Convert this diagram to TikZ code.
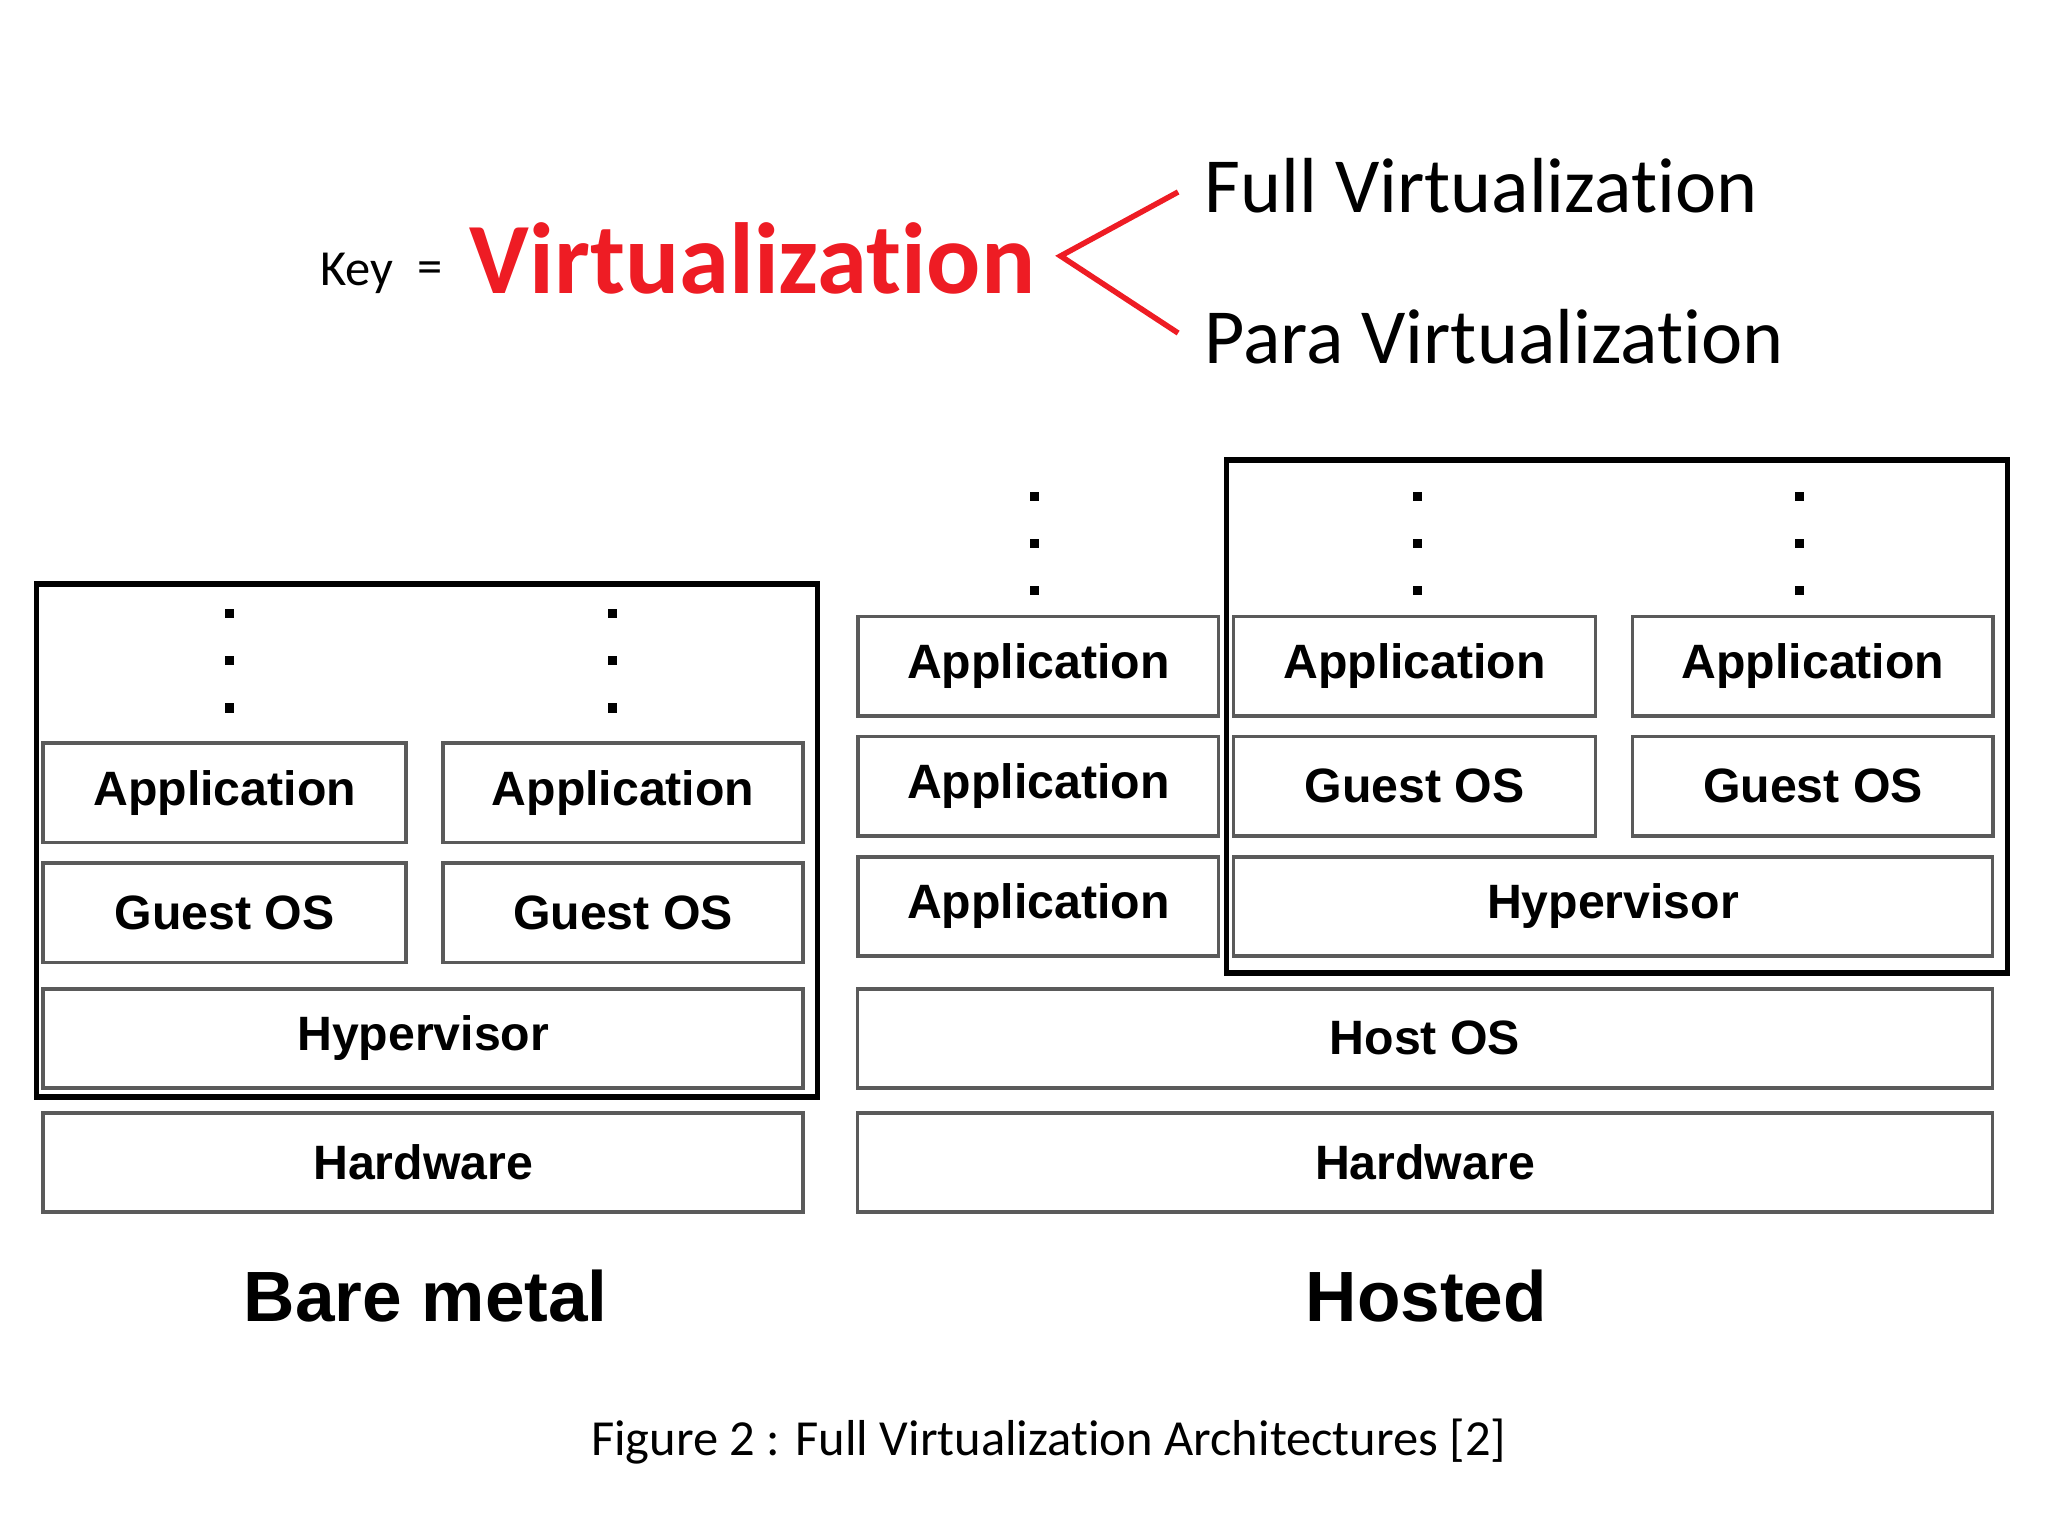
\documentclass[tikz,border=0pt]{standalone}
\usepackage{fontspec}
\setmainfont[Ligatures={NoCommon,NoRare,NoDiscretionary}]{Carlito}
\newfontfamily\boxfont{Liberation Sans}
\usetikzlibrary{calc}
\definecolor{keyred}{HTML}{ee1c24}
\definecolor{boxgray}{HTML}{5a5a5a}

\begin{document}
\begin{tikzpicture}[x=0.01cm, y=-0.01cm,
    layer/.style={draw=boxgray, line width=0.8pt, inner sep=0pt, font=\boxfont\bfseries\fontsize{10.5}{12}\selectfont},
    frame/.style={draw=black, line width=1.2pt},
    vdot/.style={fill=black, minimum size=2pt, inner sep=0pt},
    title/.style={font=\boxfont\bfseries\fontsize{15.5}{18}\selectfont}]
    \useasboundingbox (0,0) rectangle (1568,1176);

    % key
    \node (key) at (273,209) {\fontsize{11}{13}\selectfont Key};
    \node (eq) at (329,209) {\fontsize{11}{13}\selectfont =};
    \node (virt) [keyred] at (576,198) {\fontsize{22}{26}\selectfont\bfseries Virtualization};
    \node (full) [anchor=west] at (910,142) {\fontsize{17}{20}\selectfont Full Virtualization};
    \node (para) [anchor=west] at (910,258) {\fontsize{17}{20}\selectfont Para Virtualization};
    \coordinate (tip) at (812,196);
    \draw [keyred, line width=1.2pt] ($ (full.west) + (-8,5) $) -- (tip) -- ($ (para.west) + (-8,-3) $);

    % bare metal
    \draw [frame] (28,447) rectangle (626,840);
    \foreach \name/\x/\w/\y/\txt in {bmA/172/278/607/Application, bmB/477/276/607/Application,
        bmC/172/278/699/Guest OS, bmD/477/276/699/Guest OS,
        bmE/324/582/795/Hypervisor, bmF/324/582/890/Hardware} {%
            \node (\name) [layer, minimum width=\w*0.01cm, minimum height=0.76cm] at (\x,\y) {\txt};
        }
    \foreach \x in {176, 469} {%
            \foreach \y in {470, 506, 542} \node [vdot] at (\x,\y) {};
        }
    \node (bare) [title] at (326,992) {Bare metal};

    % hosted
    \draw [frame] (939,352) rectangle (1537,745);
    \foreach \name/\x/\w/\y/\txt in {hoA/795/276/510/Application, hoB/795/276/602/Application,
        hoC/795/276/694/Application,
        hoD/1083/277/510/Application, hoE/1388/276/510/Application,
        hoF/1083/277/602/Guest OS, hoG/1388/276/602/Guest OS,
        hoH/1235/581/694/Hypervisor,
        hoI/1091/869/795/Host OS, hoJ/1091/869/890/Hardware} {%
            \node (\name) [layer, minimum width=\w*0.01cm, minimum height=0.76cm] at (\x,\y) {\txt};
        }
    \foreach \x in {792, 1085, 1378} {%
            \foreach \y in {380, 416, 452} \node [vdot] at (\x,\y) {};
        }
    \node (hosted) [title] at (1092,992) {Hosted};

    % caption
    \node (caption) at (803,1104) {\fontsize{11}{13}\selectfont Figure 2 : Full Virtualization Architectures [2]};
\end{tikzpicture}
\end{document}
